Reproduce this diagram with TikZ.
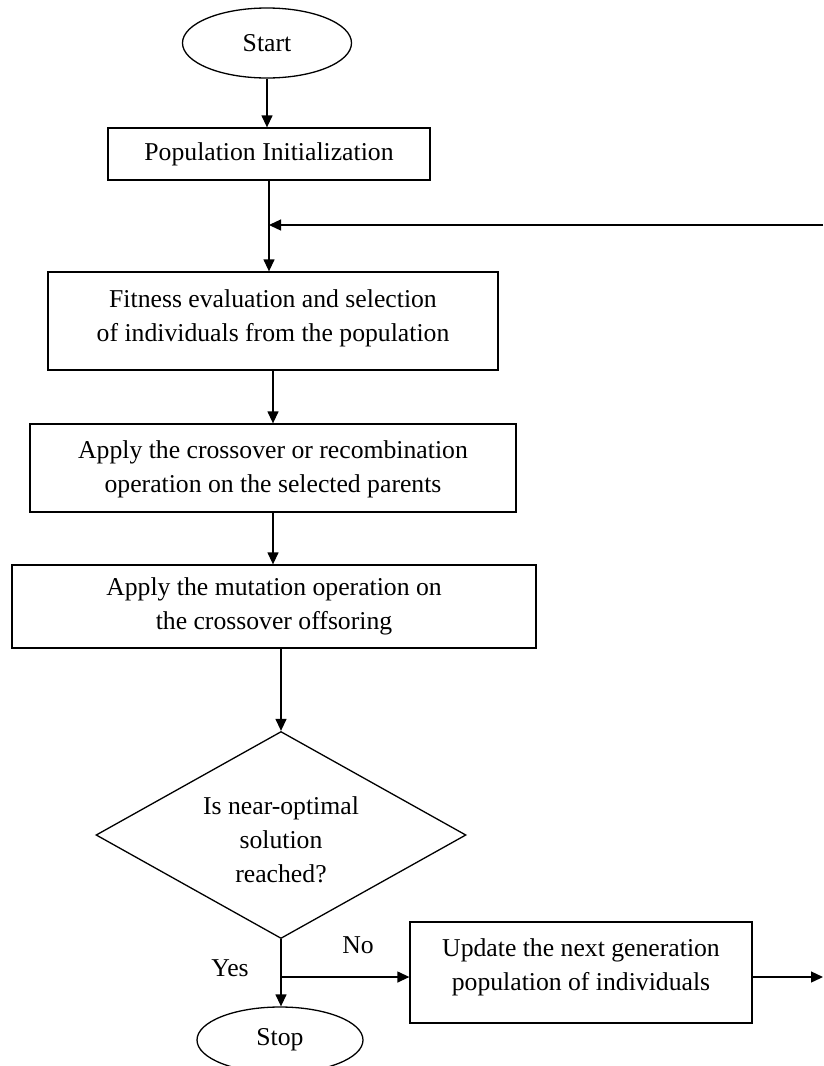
\documentclass[tikz,border=0pt]{standalone}
\usepackage{fontspec}
\setmainfont{Liberation Serif}
\usetikzlibrary{shapes.geometric,arrows.meta}
\begin{document}
\begin{tikzpicture}[x=1pt,y=-1pt,
  every node/.style={font=\fontsize{25.7}{34}\selectfont},
  box/.style={draw, line width=1.3pt, align=center, inner sep=0pt},
  term/.style={draw, ellipse, line width=1.3pt, inner sep=0pt},
  dec/.style={draw, diamond, line width=1.3pt, inner sep=0pt, align=center, aspect=1.79},
  arr/.style={line width=1.3pt, -{Triangle[length=12pt,width=11pt]}},
  lbl/.style={inner sep=0pt}]
\useasboundingbox (0,0) rectangle (823,1066);
\clip (0,0) rectangle (823,1066);

\node[term, minimum width=169pt, minimum height=70pt] (start) at (267,43) {Start};
\node[box, minimum width=322pt, minimum height=52pt] (pop) at (269,154) {Population Initialization};
\node[box, minimum width=450pt, minimum height=98pt, text depth=11.5pt] (fit) at (273,321) {Fitness evaluation and selection\\of individuals from the population};
\node[box, minimum width=486pt, minimum height=88pt, text depth=3.5pt] (cross) at (273,468) {Apply the crossover or recombination\\operation on the selected parents};
\node[box, minimum width=524pt, minimum height=83pt] (mut) at (274,606.5) {Apply the mutation operation on\\the crossover offsoring};
\node[dec, minimum width=370pt, minimum height=207pt] (dia) at (281,835) {\fontsize{25.7}{35}\selectfont \rule{0pt}{27pt}Is near-optimal\\solution\\reached?};
\node[box, minimum width=342pt, minimum height=101pt, text depth=15pt] (upd) at (581,972.5) {Update the next generation\\population of individuals};
\node[term, minimum width=166pt, minimum height=66pt] (stop) at (280,1040) {Stop};

\coordinate (fb) at (823,225);
\coordinate (br) at (281,977);
\coordinate (out) at (823,977);

\draw[arr] (start.south) -- (start.south |- pop.north);
\draw[arr] (pop.south) -- (pop.south |- fit.north);
\draw[arr] (fb) -- (fb -| pop.south);
\draw[arr] (fit.south) -- (fit.south |- cross.north);
\draw[arr] (cross.south) -- (cross.south |- mut.north);
\draw[arr] (mut.south -| dia.north) -- (dia.north);
\draw[arr] (dia.south) -- (dia.south |- stop.north);
\draw[arr] (br) -- (br -| upd.west);
\draw[arr] (br -| upd.east) -- (out);

\node[lbl] (no) at (358,945) {No};
\node[lbl] (yes) at (230,968) {Yes};
\end{tikzpicture}
\end{document}
